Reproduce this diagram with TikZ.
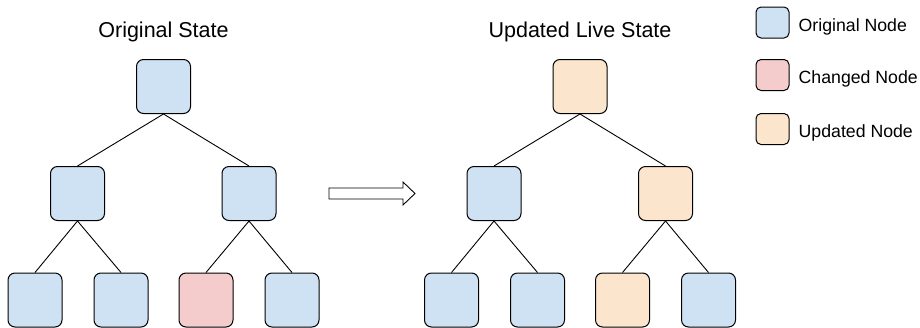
\documentclass[tikz,border=0pt]{standalone}
\usepackage{fontspec}
\setmainfont{Liberation Sans}
\usepackage{tikz}
\usetikzlibrary{calc}
\usetikzlibrary{positioning}

\definecolor{origfill}{HTML}{CFE2F3}
\definecolor{chgfill}{HTML}{F4CCCC}
\definecolor{updfill}{HTML}{FCE5CD}

\tikzset{
  treenode/.style={draw,line width=1pt,rounded corners=7pt,minimum size=54pt,inner sep=0pt},
  keynode/.style={draw,line width=1pt,rounded corners=5pt,minimum width=33pt,minimum height=31pt,inner sep=0pt},
  heading/.style={font=\fontsize{21.5}{24}\selectfont,inner sep=0pt,anchor=base},
  keytext/.style={font=\fontsize{17.7}{20}\selectfont,inner sep=0pt,anchor=base west}
}

\begin{document}
\begin{tikzpicture}[x=1pt,y=-1pt]
  \useasboundingbox (0,0) rectangle (920,327);
  % both trees, the second one shifted right
  \foreach \t/\dx/\ctop/\cleaf in {A/0/origfill/chgfill, B/416.5/updfill/updfill}{%
    \node[treenode,fill=\ctop] (\t-1) at (163.5+\dx,86.5) {};
    \node[treenode,fill=origfill] (\t-2) at (77.5+\dx,193.5) {};
    \node[treenode,fill=\ctop] (\t-3) at (249+\dx,193.5) {};
    \foreach \x/\c [count=\i from 4] in {35/origfill,121/origfill,206/\cleaf,292/origfill}{%
      \node[treenode,fill=\c] (\t-\i) at (\x+\dx,300) {};
    }
    \foreach \a/\b in {1/2,1/3,2/4,2/5,3/6,3/7}{%
      \draw[line width=0.9pt] (\t-\a.south) -- (\t-\b.north);
    }
  }
  \node[heading] (title-A) at (163.5,37) {Original State};
  \node[heading] (title-B) at (580,37) {Updated Live State};
  % hollow block arrow between the trees
  \draw[line width=0.9pt] (329,188) -- (403,188) -- (403,182) -- (415,193.5)
    -- (403,205) -- (403,199) -- (329,199) -- cycle;
  % legend
  \foreach \y/\c/\s [count=\i] in {22.5/origfill/Original Node,75/chgfill/Changed Node,129/updfill/Updated Node}{%
    \node[keynode,fill=\c] (K-\i) at (772.5,\y) {};
    \node[keytext] (L-\i) at ([xshift=9pt,yshift=-8.5pt]K-\i.east) {\s};
  }
\end{tikzpicture}
\end{document}
